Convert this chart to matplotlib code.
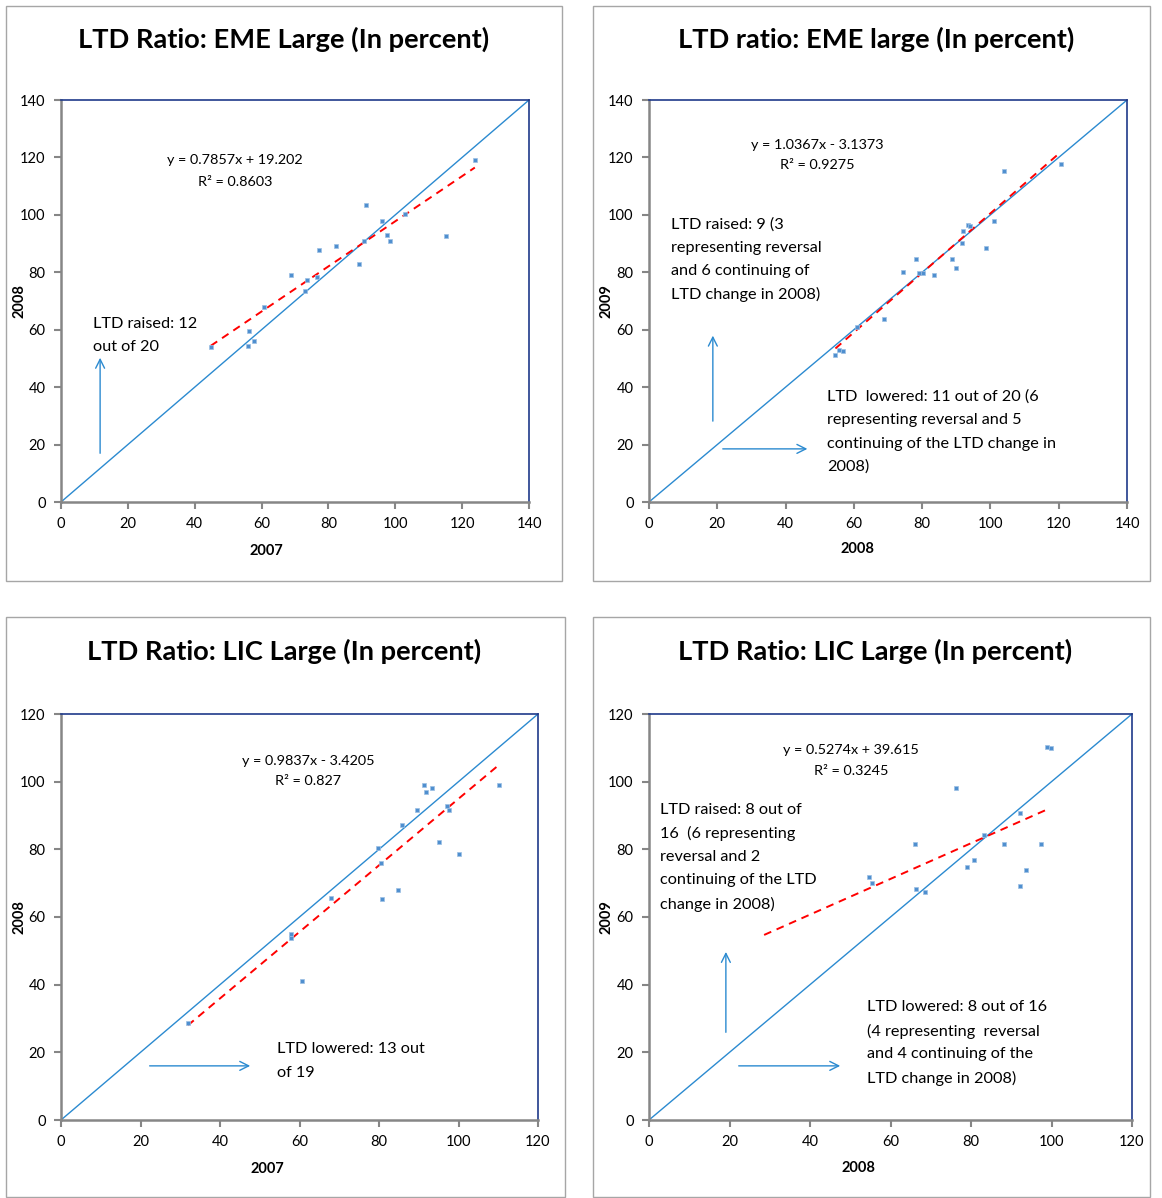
import matplotlib
matplotlib.use('Agg')
import matplotlib.pyplot as plt
from matplotlib.patches import Rectangle
import numpy as np

plt.rcParams['font.family'] = ['Lato', 'DejaVu Sans']

W, H = 1162, 1198

# panel 1: EME large, 2007 vs 2008
eme_2007 = [44.8, 56.0, 57.7, 56.3, 60.8, 68.9, 73.5, 73.1, 76.5, 77.3,
            82.4, 89.2, 90.7, 91.1, 96.0, 97.6, 98.5, 103.0, 115.2, 123.8]
eme_2008 = [53.9, 54.3, 56.1, 59.7, 68.0, 79.2, 77.3, 73.4, 78.4, 87.7,
            89.1, 82.8, 90.8, 103.3, 97.8, 92.9, 90.8, 100.2, 92.5, 119.2]

# panel 2: EME large, 2008 vs 2009
eme2_2008 = [104.1, 120.7, 100.9, 93.5, 94.0, 92.1, 91.7, 98.6, 88.8, 78.2,
             89.8, 74.5, 79.0, 80.2, 83.5, 68.9, 60.8, 55.6, 56.9, 54.6]
eme2_2009 = [115.4, 117.6, 98.0, 96.5, 96.0, 94.4, 90.3, 88.4, 84.5, 84.5,
             81.5, 80.0, 79.7, 79.7, 79.2, 63.6, 61.1, 52.8, 52.5, 51.1]

# panel 3: LIC large, 2007 vs 2008
lic_2007 = [31.9, 57.9, 57.9, 60.6, 68.0, 79.8, 80.6, 80.8, 84.7, 85.7,
            89.5, 91.4, 91.7, 93.3, 95.1, 97.2, 97.7, 100.0, 110.3]
lic_2008 = [28.6, 55.0, 53.9, 41.0, 65.5, 80.3, 75.9, 65.2, 67.9, 87.2,
            91.7, 98.9, 96.9, 98.0, 82.3, 92.8, 91.7, 78.5, 98.9]

# panel 4: LIC large, 2008 vs 2009
lic2_2008 = [99.0, 99.8, 76.2, 92.1, 83.2, 66.1, 88.3, 97.5, 80.7, 79.1,
             93.7, 92.1, 54.6, 55.5, 66.4, 68.6]
lic2_2009 = [110.2, 109.9, 98.0, 90.7, 84.2, 81.5, 81.5, 81.5, 76.9, 74.7,
             73.8, 69.1, 71.7, 70.1, 68.2, 67.5]

titles = ['LTD Ratio: EME Large (In percent)', 'LTD ratio: EME large (In percent)',
          'LTD Ratio: LIC Large (In percent)', 'LTD Ratio: LIC Large (In percent)']
xlabels = ['2007', '2008', '2007', '2008']
ylabels = ['2008', '2009', '2008', '2009']
slopes = [0.7857, 1.0367, 0.9837, 0.5274]
intercepts = [19.202, -3.1373, -3.4205, 39.615]
eq_text = ['y = 0.7857x + 19.202', 'y = 1.0367x - 3.1373',
           'y = 0.9837x - 3.4205', 'y = 0.5274x + 39.615']
r2 = ['0.8603', '0.9275', '0.827', '0.3245']
trend_start = [44.8, 54.6, 31.9, 28.6]
trend_end = [123.8, 120.7, 110.3, 99.6]
axis_max = [140, 140, 120, 120]

BLUE = '#2b8ad0'
MARK = '#4f8fcf'


def px_axes(l, t, r, b):
    return fig.add_axes([l / W, 1 - b / H, (r - l) / W, (b - t) / H])


fig = plt.figure(figsize=(W / 100, H / 100), dpi=100)

# outer frames and axes boxes in pixels
frames = [(6, 6, 562, 581), (593, 6, 1150, 581), (6, 617, 565, 1197), (593, 617, 1150, 1197)]
boxes = [(61, 100, 529, 502), (649, 100, 1127, 502), (61, 714, 538, 1120), (649, 714, 1132, 1120)]
title_pos = [(284, 39), (876, 39), (284, 651), (875, 651)]
ylabel_x = [-0.088, -0.088, -0.086, -0.089]
xlabel_xy = [(0.438, -0.121), (0.437, -0.117), (0.432, -0.121), (0.433, -0.118)]

xs = [eme_2007, eme2_2008, lic_2007, lic2_2008]
ys = [eme_2008, eme2_2009, lic_2008, lic2_2009]

axes = []
for i in range(4):
    l, t, r, b = frames[i]
    fig.patches.append(Rectangle((l / W, 1 - b / H), (r - l) / W, (b - t) / H,
                                 transform=fig.transFigure, fill=False,
                                 edgecolor='#a6a6a6', lw=1))
    fig.text(title_pos[i][0] / W, 1 - title_pos[i][1] / H, titles[i],
             ha='center', va='center', fontsize=19.6, fontweight='bold')

    ax = px_axes(*boxes[i])
    m = axis_max[i]
    ax.plot([0, m], [0, m], color=BLUE, lw=1)
    tx = np.array([trend_start[i], trend_end[i]])
    ax.plot(tx, slopes[i] * tx + intercepts[i], color='red', lw=1.4, ls=(0, (4, 3)))
    ax.scatter(xs[i], ys[i], marker='s', s=12, color=MARK, edgecolors='#9cc0e4',
               linewidths=0.5, zorder=3)

    ax.set_xlim(0, m)
    ax.set_ylim(0, m)
    ax.set_xticks(range(0, m + 1, 20))
    ax.set_yticks(range(0, m + 1, 20))
    ax.tick_params(labelsize=10.5, color='#868686', length=5, width=1.5, pad=6)
    for side in ['left', 'bottom']:
        ax.spines[side].set_color('#868686')
        ax.spines[side].set_linewidth(1.8)
    for side in ['top', 'right']:
        ax.spines[side].set_color('#1f3a8a')
        ax.spines[side].set_linewidth(1.2)
    ax.tick_params(top=False, right=False)
    ax.set_xlabel(xlabels[i], fontsize=10.5, fontweight='bold')
    ax.set_ylabel(ylabels[i], fontsize=10.5, fontweight='bold')
    ax.xaxis.set_label_coords(*xlabel_xy[i])
    ax.xaxis.label.set_va('center')
    ax.yaxis.set_label_coords(ylabel_x[i], 0.5)
    ax.yaxis.label.set_va('center')
    axes.append(ax)

eq_pos = [(52.0, 119.1, 111.5), (49.2, 124.3, 117.4), (62.1, 106.1, 100.2), (50.2, 109.4, 103.2)]
for i, ax in enumerate(axes):
    x, y1, y2 = eq_pos[i]
    ax.text(x, y1, eq_text[i], ha='center', va='center', fontsize=10.4)
    ax.text(x, y2, 'R² = ' + r2[i], ha='center', va='center', fontsize=10.4)


def note(ax, x, lines_y, lines):
    for y, s in zip(lines_y, lines):
        ax.text(x, y, s, ha='left', va='center', fontsize=11.7)


def arrow(ax, start, end):
    ax.annotate('', xy=end, xytext=start,
                arrowprops=dict(arrowstyle='->', color=BLUE, lw=1, mutation_scale=16))


note(axes[0], 9.6, [62.0, 54.0], ['LTD raised: 12', 'out of 20'])
arrow(axes[0], (11.7, 16.0), (11.7, 51.2))

note(axes[1], 6.4, [96.5, 88.5, 80.5, 72.4],
     ['LTD raised: 9 (3', 'representing reversal', 'and 6 continuing of', 'LTD change in 2008)'])
note(axes[1], 52.1, [36.6, 28.6, 20.2, 12.2],
     ['LTD  lowered: 11 out of 20 (6', 'representing reversal and 5',
      'continuing of the LTD change in', '2008)'])
arrow(axes[1], (18.7, 27.2), (18.7, 58.9))
arrow(axes[1], (20.8, 18.5), (47.2, 18.5))

note(axes[2], 54.3, [21.0, 13.9], ['LTD lowered: 13 out', 'of 19'])
arrow(axes[2], (21.6, 16.0), (48.3, 16.0))

note(axes[3], 2.7, [91.6, 84.8, 77.7, 70.9, 63.8],
     ['LTD raised: 8 out of', '16  (6 representing', 'reversal and 2',
      'continuing of the LTD', 'change in 2008)'])
note(axes[3], 54.2, [33.4, 26.3, 19.5, 12.4],
     ['LTD lowered: 8 out of 16', '(4 representing  reversal',
      'and 4 continuing of the', 'LTD change in 2008)'])
arrow(axes[3], (19.1, 25.1), (19.1, 50.5))
arrow(axes[3], (21.6, 16.0), (48.2, 16.0))

fig.savefig('out.png', dpi=100)
